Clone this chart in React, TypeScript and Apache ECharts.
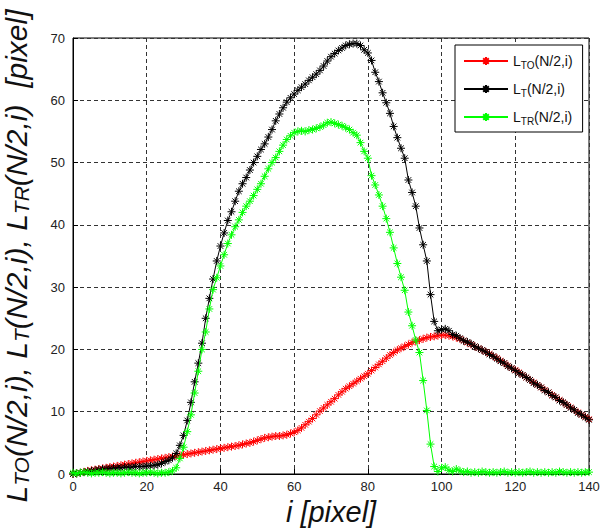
import React, { useEffect, useRef } from "react";
import * as echarts from "echarts";

const xValues: number[] = Array.from({ length: 141 }, (_, i) => i);

const redLTO: number[] = [
  0.0, 0.1, 0.2, 0.35, 0.5, 0.6, 0.7, 0.8, 0.9, 1.0,
  1.1, 1.2, 1.3, 1.4, 1.5, 1.6, 1.7, 1.8, 1.9, 2.0,
  2.1, 2.2, 2.3, 2.4, 2.5, 2.6, 2.7, 2.8, 2.9, 3.0,
  3.1, 3.2, 3.3, 3.4, 3.5, 3.6, 3.7, 3.8, 3.9, 4.0,
  4.1, 4.2, 4.3, 4.4, 4.5, 4.6, 4.75, 4.9, 5.0, 5.2,
  5.4, 5.6, 5.8, 5.9, 6.0, 6.1, 6.1, 6.2, 6.3, 6.5,
  6.7, 7.0, 7.4, 7.9, 8.4, 8.9, 9.5, 10.1, 10.6, 11.1,
  11.6, 12.1, 12.7, 13.2, 13.7, 14.1, 14.5, 14.9, 15.3, 15.7,
  16.1, 16.6, 17.1, 17.6, 18.1, 18.6, 19.1, 19.5, 19.9, 20.2,
  20.5, 20.8, 21.1, 21.3, 21.5, 21.7, 21.9, 22.0, 22.1, 22.2,
  22.3, 22.3, 22.2, 22.1, 21.9, 21.7, 21.4, 21.1, 20.8, 20.5,
  20.2, 19.9, 19.6, 19.3, 18.9, 18.6, 18.2, 17.8, 17.4, 17.0,
  16.7, 16.3, 15.9, 15.5, 15.1, 14.7, 14.3, 13.9, 13.5, 13.1,
  12.7, 12.3, 11.9, 11.5, 11.1, 10.7, 10.3, 9.9, 9.5, 9.2,
  8.8,
];

const blackLT: number[] = [
  0.0, 0.1, 0.2, 0.3, 0.4, 0.5, 0.6, 0.7, 0.8, 0.85,
  0.9, 0.95, 1.0, 1.0, 1.1, 1.1, 1.1, 1.2, 1.2, 1.2,
  1.3, 1.3, 1.4, 1.5, 1.7, 2.0, 2.2, 2.6, 3.3, 4.6,
  6.2, 8.6, 11.5, 14.8, 17.8, 21.0, 25.0, 28.2, 31.3, 34.2,
  36.6, 38.7, 40.7, 42.1, 43.8, 45.4, 46.6, 47.6, 48.8, 50.0,
  51.0, 52.1, 53.0, 54.1, 55.3, 56.7, 57.8, 58.8, 59.7, 60.4,
  61.0, 61.6, 62.1, 62.6, 63.2, 63.7, 64.2, 64.8, 65.5, 66.3,
  67.0, 67.5, 68.0, 68.4, 68.8, 69.0, 69.1, 69.1, 68.8, 68.1,
  67.6, 66.4, 64.5, 63.0, 61.2, 59.6, 57.9, 55.8, 54.0, 52.3,
  50.7, 47.2, 45.2, 43.0, 39.5, 36.8, 34.2, 28.8, 24.5, 23.0,
  23.2, 23.3, 23.0, 22.4, 22.2, 21.8, 21.4, 21.2, 20.9, 20.5,
  20.2, 19.9, 19.6, 19.2, 18.9, 18.5, 18.1, 17.8, 17.3, 17.0,
  16.6, 16.2, 15.9, 15.5, 15.1, 14.6, 14.3, 13.9, 13.4, 13.1,
  12.6, 12.3, 11.8, 11.5, 11.1, 10.6, 10.3, 9.8, 9.5, 9.1,
  8.7,
];

const greenLTR: number[] = [
  0.2, 0.1, 0.2, 0.3, 0.2, 0.1, 0.2, 0.2, 0.3, 0.2,
  0.1, 0.2, 0.2, 0.1, 0.2, 0.3, 0.2, 0.2, 0.1, 0.2,
  0.2, 0.3, 0.2, 0.1, 0.2, 0.2, 0.3, 0.5, 1.0, 2.5,
  4.3, 6.8, 9.5, 13.0, 16.5, 20.0, 22.8, 26.5, 29.6, 31.5,
  33.4, 35.2, 37.0, 38.4, 39.7, 40.8, 42.0, 43.0, 43.8, 44.7,
  45.7, 46.6, 47.8, 49.0, 50.0, 50.8, 51.8, 52.8, 53.7, 54.3,
  54.8, 55.0, 55.1, 55.0, 55.2, 55.3, 55.5, 55.7, 56.0, 56.4,
  56.5, 56.3, 56.1, 55.9, 55.6, 55.3, 54.8, 54.4, 53.2, 51.8,
  50.7, 47.9, 46.4, 44.8, 43.0, 41.0, 38.8, 36.3, 33.8, 31.6,
  29.5, 26.0, 23.8, 21.5, 19.5, 15.0, 10.2, 4.8, 1.2, 0.4,
  1.0, 1.1, 0.6, 0.4, 0.8, 0.5, 0.3, 0.4, 0.2, 0.3,
  0.2, 0.4, 0.3, 0.2, 0.3, 0.2, 0.3, 0.4, 0.2, 0.3,
  0.2, 0.3, 0.2, 0.3, 0.4, 0.2, 0.3, 0.2, 0.3, 0.2,
  0.3, 0.2, 0.4, 0.3, 0.2, 0.3, 0.2, 0.3, 0.2, 0.3,
  0.3,
];

const seriesNames = ["L_TO", "L_T", "L_TR"];
const seriesColors = ["#ff0000", "#000000", "#00ff00"];
const legendRich: Record<string, string> = {
  L_TO: "{m|L}{s|TO}{m|(N/2,i)}",
  L_T: "{m|L}{s|T}{m|(N/2,i)}",
  L_TR: "{m|L}{s|TR}{m|(N/2,i)}",
};

const STAR = "path://M0,5L10,5M5,0L5,10M1.5,1.5L8.5,8.5M8.5,1.5L1.5,8.5";

export default function App() {
  const ref = useRef<HTMLDivElement>(null);
  useEffect(() => {
    if (!ref.current) return;
    const chart = echarts.init(ref.current, null, { renderer: "svg" });
    const allData = [redLTO, blackLT, greenLTR];
    const font = "Liberation Sans, Arial, sans-serif";
    chart.setOption({
      animation: false,
      backgroundColor: "#ffffff",
      textStyle: { fontFamily: font },
      grid: {
        left: 73,
        right: 11,
        top: 38,
        bottom: 56,
        outerBoundsMode: "none",
        containLabel: false,
        show: true,
        borderColor: "#000",
        borderWidth: 1,
        backgroundColor: "#fff",
      },
      legend: {
        orient: "vertical",
        left: 455,
        top: 45,
        padding: [9, 10, 6, 8],
        itemGap: 12,
        itemWidth: 44,
        itemHeight: 10,
        borderColor: "#000",
        borderWidth: 1,
        backgroundColor: "#fff",
        data: seriesNames,
        formatter: (name: string) => legendRich[name],
        textStyle: {
          fontFamily: font,
          rich: {
            m: { fontSize: 14, color: "#111", fontFamily: font, lineHeight: 18, verticalAlign: "middle" },
            s: { fontSize: 10, color: "#111", fontFamily: font, lineHeight: 8, verticalAlign: "bottom" },
          },
        },
      },
      xAxis: {
        type: "value",
        min: 0,
        max: 140,
        interval: 20,
        name: "i [pixel]",
        nameLocation: "middle",
        nameGap: 20,
        nameTextStyle: { fontSize: 29, fontStyle: "italic", color: "#111", fontFamily: font },
        axisLine: { show: true, lineStyle: { color: "#000", width: 1 } },
        axisTick: { show: true, inside: true, length: 5, lineStyle: { color: "#000" } },
        axisLabel: { fontSize: 13, color: "#222", margin: 6, fontFamily: font },
        splitLine: { show: true, lineStyle: { color: "#333", type: [4, 3], width: 1 } },
      },
      yAxis: {
        type: "value",
        min: 0,
        max: 70,
        interval: 10,
        name: "{m|L}{s|TO}{m|(N/2,i), L}{s|T}{m|(N/2,i), L}{s|TR}{m|(N/2,i)  [pixel]}",
        nameLocation: "middle",
        nameGap: 41,
        nameRotate: 90,
        nameTextStyle: {
          fontFamily: font,
          rich: {
            m: { fontSize: 30, fontStyle: "italic", color: "#111", fontFamily: font, lineHeight: 32, verticalAlign: "middle" },
            s: { fontSize: 21, fontStyle: "italic", color: "#111", fontFamily: font, lineHeight: 20, verticalAlign: "bottom" },
          },
        },
        axisLine: { show: true, lineStyle: { color: "#000", width: 1 } },
        axisTick: { show: true, inside: true, length: 5, lineStyle: { color: "#000" } },
        axisLabel: { fontSize: 13, color: "#222", margin: 8, fontFamily: font },
        splitLine: { show: true, lineStyle: { color: "#333", type: [4, 3], width: 1 } },
      },
      series: seriesNames.map((name, k) => ({
        name,
        type: "line",
        data: xValues.map((x, i) => [x, allData[k][i]]),
        symbol: STAR,
        symbolSize: 8,
        showSymbol: true,
        lineStyle: { color: seriesColors[k], width: 1 },
        itemStyle: { color: seriesColors[k], borderColor: seriesColors[k], borderWidth: 1 },
        z: 2 + k,
      })),
    });
    return () => chart.dispose();
  }, []);
  return (
    <div
      ref={ref}
      style={{ position: "fixed", left: 0, top: 0, width: 600, height: 530 }}
    />
  );
}
